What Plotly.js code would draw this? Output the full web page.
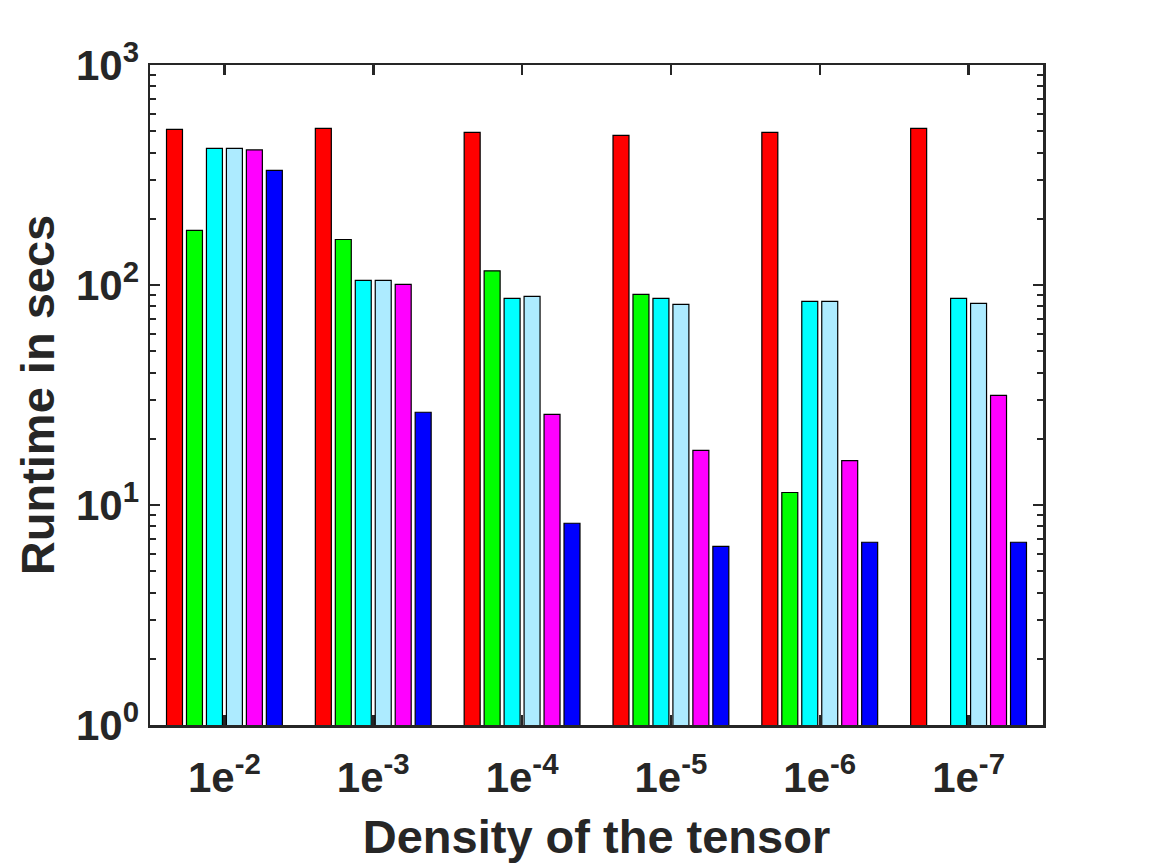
<!DOCTYPE html>
<html>
<head>
<meta charset="utf-8">
<script src="https://cdn.plot.ly/plotly-3.0.1.min.js"></script>
<style>
  html, body { margin: 0; padding: 0; background: #fff; }
  #chart { width: 1152px; height: 864px; }
</style>
</head>
<body>
<div id="chart"></div>
<script>
// ---- data --------------------------------------------------------------------
const DENSITY_LABELS = ['1e<sup>-2</sup>', '1e<sup>-3</sup>', '1e<sup>-4</sup>',
                        '1e<sup>-5</sup>', '1e<sup>-6</sup>', '1e<sup>-7</sup>'];

const RED_VALUES       = [510, 515, 494, 479, 494, 515];
const GREEN_VALUES     = [177, 161, 116, 90.7, 11.4, null];
const CYAN_VALUES      = [418, 105, 87, 87, 84.3, 87];
const LIGHTBLUE_VALUES = [418, 105, 88.8, 81.7, 84.3, 82.5];
const MAGENTA_VALUES   = [411, 100.7, 25.8, 17.7, 15.9, 31.5];
const BLUE_VALUES      = [332, 26.4, 8.26, 6.49, 6.77, 6.77];

const Y_TICK_VALS = [1, 10, 100, 1000];
const Y_TICK_TEXT = ['10<sup>0</sup>', '10<sup>1</sup>', '10<sup>2</sup>', '10<sup>3</sup>'];

const SERIES = [
  { y: RED_VALUES,       color: '#ff0000' },
  { y: GREEN_VALUES,     color: '#00ff00' },
  { y: CYAN_VALUES,      color: '#00ffff' },
  { y: LIGHTBLUE_VALUES, color: '#adebff' },
  { y: MAGENTA_VALUES,   color: '#ff00ff' },
  { y: BLUE_VALUES,      color: '#0000ff' },
];

const AX_COLOR = '#262626';
const FONT = 'Liberation Sans, Arial, Helvetica, sans-serif';
const TICK_FONT = { family: FONT, size: 42, color: AX_COLOR, weight: 'bold' };
const LABEL_FONT = { family: FONT, size: 47, color: AX_COLOR, weight: 'bold' };

const traces = SERIES.map((s, i) => ({
  type: 'bar',
  x: DENSITY_LABELS,
  y: s.y,
  name: 'series ' + (i + 1),
  marker: { color: s.color, line: { color: '#000', width: 1.2 } },
  hoverinfo: 'y',
}));

const layout = {
  width: 1152, height: 864,
  paper_bgcolor: '#fff', plot_bgcolor: '#fff',
  showlegend: false,
  barmode: 'group',
  bargap: 0.195,
  bargroupgap: 0.2,
  margin: { l: 150, r: 109, t: 65, b: 139 },
  font: { family: FONT, color: AX_COLOR },
  xaxis: {
    type: 'category',
    range: [-0.5, 5.5],
    showline: true, linecolor: AX_COLOR, linewidth: 2.5,
    mirror: 'ticks',
    ticks: 'inside', ticklen: 10, tickwidth: 2.5, tickcolor: AX_COLOR,
    ticklabelstandoff: 14,
    tickfont: TICK_FONT,
    showgrid: false, zeroline: false,
    layer: 'below traces',
    title: { text: 'Density of the tensor', standoff: 20, font: LABEL_FONT },
  },
  yaxis: {
    type: 'log',
    range: [0, 3],
    tickvals: Y_TICK_VALS, ticktext: Y_TICK_TEXT,
    showline: true, linecolor: AX_COLOR, linewidth: 2.5,
    mirror: 'allticks',
    ticks: 'inside', ticklen: 10, tickwidth: 2.5, tickcolor: AX_COLOR,
    minor: { ticks: 'inside', ticklen: 6, tickwidth: 2, tickcolor: AX_COLOR,
             dtick: 'D1', showgrid: false },
    tickfont: TICK_FONT,
    showgrid: false, zeroline: false,
    title: { text: 'Runtime in secs', standoff: 7, font: LABEL_FONT },
  },
};

Plotly.newPlot('chart', traces, layout, { displayModeBar: false, staticPlot: true });
</script>
</body>
</html>
